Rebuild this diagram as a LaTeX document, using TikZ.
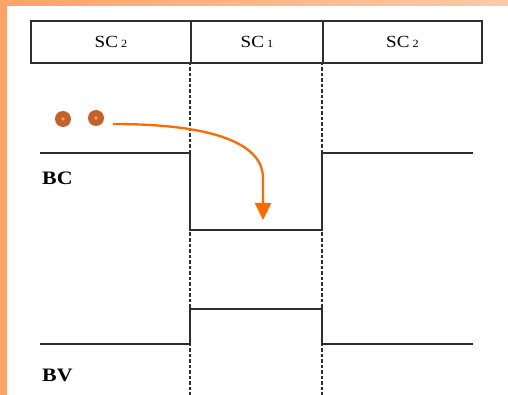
\documentclass[tikz,border=0pt]{standalone}
\usepackage{fontspec}
\setmainfont{Liberation Serif}
\usetikzlibrary{arrows.meta}
\definecolor{bord}{HTML}{FFA366}
\definecolor{bordR}{HTML}{FFC9A8}
\definecolor{dotc}{HTML}{C4602A}
\definecolor{dotin}{HTML}{F7A060}
\definecolor{arr}{HTML}{FF6A00}
\definecolor{ln}{HTML}{2E2E2E}
\tikzset{
  cell/.style={draw=ln, line width=2pt, minimum height=42pt, inner sep=0pt, font=\fontsize{17}{17}\selectfont},
  sig/.style={draw=ln, line width=2pt},
  guide/.style={draw=ln, line width=1.2pt, dash pattern=on 3.5pt off 2pt},
  lab/.style={font=\fontsize{19}{19}\selectfont\bfseries, inner sep=0pt},
  ion/.style={circle, fill=dotc, minimum size=16pt, inner sep=0pt},
  flow/.style={draw=arr, line width=2.3pt, -{Triangle[length=17pt,width=16pt]}}
}
\newcommand{\sctext}[1]{\scalebox{1.12}[1]{SC\,{\fontsize{11}{11}\selectfont #1}}}
\begin{document}
\begin{tikzpicture}[x=1pt,y=-1pt]
\useasboundingbox (0,0) rectangle (508,395);
\fill[white] (0,0) rectangle (508,395);
% orange frame
\shade[left color=bord, right color=bordR] (0,0) rectangle (508,6);
\fill[bord] (0,0) rectangle (7,395);
% guides
\coordinate (g1t) at (190,62);
\coordinate (g1b) at (190,395);
\coordinate (g2t) at (322,62);
\coordinate (g2b) at (322,395);
\draw[guide] (g1t) -- (g1b);
\draw[guide] (g2t) -- (g2b);
% table
\node[cell, minimum width=160pt, anchor=north west] (c1) at (30,20) {\sctext{2}};
\node[cell, minimum width=132pt, anchor=north west] (c2) at (190,20) {\sctext{1}};
\node[cell, minimum width=159pt, anchor=north west] (c3) at (322,20) {\sctext{2}};
% BC signal
\coordinate (bc0) at (40,153);
\coordinate (bc1) at (190,153);
\coordinate (bc2) at (190,230);
\coordinate (bc3) at (322,230);
\coordinate (bc4) at (322,153);
\coordinate (bc5) at (473,153);
\draw[sig] (bc0) -- (bc1) -- (bc2) -- (bc3) -- (bc4) -- (bc5);
% BV signal
\coordinate (bv0) at (40,344);
\coordinate (bv1) at (190,344);
\coordinate (bv2) at (190,309);
\coordinate (bv3) at (322,309);
\coordinate (bv4) at (322,344);
\coordinate (bv5) at (473,344);
\draw[sig] (bv0) -- (bv1) -- (bv2) -- (bv3) -- (bv4) -- (bv5);
% labels
\node[lab, anchor=west] (bc) at (42,178) {\scalebox{1.15}[1]{BC}};
\node[lab, anchor=west] (bv) at (42,375) {\scalebox{1.15}[1]{BV}};
% ions
\node[ion] (i1) at (63,119) {};
\node[ion] (i2) at (96,118) {};
\fill[dotin] (i1.center) circle (1.8pt);
\fill[dotin] (i2.center) circle (1.8pt);
% arrow
\coordinate (as) at (113,124);
\coordinate (ae) at (263,220);
\draw[flow] (as) .. controls (225,124) and (263,148) .. (263,178) -- (ae);
\end{tikzpicture}
\end{document}
